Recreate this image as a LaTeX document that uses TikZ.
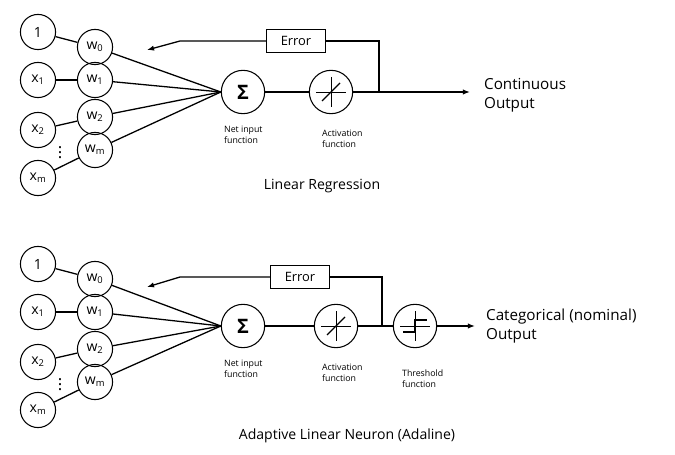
\documentclass[tikz,border=0pt]{standalone}
\usepackage{fontspec}
\setmainfont{Open Sans}
\usetikzlibrary{positioning, arrows.meta, calc}

\tikzset{
  unit/.style={circle, draw, line width=0.9pt, minimum size=30pt, inner sep=0pt, font=\fontsize{12}{12}\selectfont},
  fun/.style={circle, draw, line width=0.9pt, minimum size=37pt, inner sep=0pt},
  wire/.style={line width=1.1pt},
  note/.style={font=\fontsize{7.5}{9}\selectfont, align=left, anchor=north west},
  title/.style={font=\fontsize{12}{14}\selectfont},
  errbox/.style={draw, line width=0.9pt, minimum width=50pt, minimum height=19pt, font=\fontsize{11}{11}\selectfont},
}

\begin{document}
\begin{tikzpicture}[x=0.03cm, y=-0.03cm]
  \useasboundingbox (0,0) rectangle (675,455);

  % Linear regression
  \node[unit] (a1) at (38,32) {1};
  \node[unit] (ax1) at (38,80) {x\textsubscript{1}};
  \node[unit] (ax2) at (38,130) {x\textsubscript{2}};
  \node[unit] (axm) at (38,178) {x\textsubscript{m}};
  \node[unit] (aw0) at (95,47) {w\textsubscript{0}};
  \node[unit] (aw1) at (95,80) {w\textsubscript{1}};
  \node[unit] (aw2) at (95,117) {w\textsubscript{2}};
  \node[unit] (awm) at (95,150) {w\textsubscript{m}};
  \node[font=\Large] at (60,149) {$\vdots$};
  \node[fun] (asum) at (243,92) {\fontsize{17}{17}\selectfont\textbf{Σ}};
  \node[fun] (aact) at (331,92) {};
  \draw[line width=0.6pt] ($(aact)+(-15,0)$) -- ++(30,0) ($(aact)+(0,-15)$) -- ++(0,30);
  \draw[line width=1pt] ($(aact)+(-9,9)$) -- ++(18,-18);
  \node[errbox] (aerr) at (296,41) {Error};
  \coordinate (asplit) at (379,92);
  \coordinate (aout) at (470,92);
  \coordinate (abend) at (180,41);
  \coordinate (aback) at (147,50);
  \foreach \i/\w in {1/0, x1/1, x2/2, xm/m} \draw[wire] (a\i) -- (aw\w);
  \foreach \w in {0,1,2,m} \draw[wire] (aw\w) -- (asum.west);
  \draw[wire] (asum) -- (aact);
  \draw[wire, -{Latex[length=6pt]}] (aact) -- (aout);
  \draw[wire] (asplit) |- (aerr.east);
  \draw[wire, -{Latex[length=6pt]}] (aerr.west) -- (abend) -- (aback);
  \node[anchor=west, font=\fontsize{13}{16}\selectfont, align=left] at (480,95) {Continuous\\Output};
  \node[note] at (220,122) {Net input\\function};
  \node[note] at (318,126) {Activation\\function};
  \node[title] at (322,186) {Linear Regression};

  % Adaline
  \node[unit] (b1) at (38,264) {1};
  \node[unit] (bx1) at (38,312) {x\textsubscript{1}};
  \node[unit] (bx2) at (38,362) {x\textsubscript{2}};
  \node[unit] (bxm) at (38,410) {x\textsubscript{m}};
  \node[unit] (bw0) at (95,279) {w\textsubscript{0}};
  \node[unit] (bw1) at (95,312) {w\textsubscript{1}};
  \node[unit] (bw2) at (95,349) {w\textsubscript{2}};
  \node[unit] (bwm) at (95,382) {w\textsubscript{m}};
  \node[font=\Large] at (60,381) {$\vdots$};
  \node[fun] (bsum) at (243,326) {\fontsize{17}{17}\selectfont\textbf{Σ}};
  \node[fun] (bact) at (336,326) {};
  \draw[line width=0.6pt] ($(bact)+(-15,0)$) -- ++(30,0) ($(bact)+(0,-15)$) -- ++(0,30);
  \draw[line width=1pt] ($(bact)+(-9,9)$) -- ++(18,-18);
  \node[fun] (bthr) at (415,326) {};
  \draw[line width=0.6pt] ($(bthr)+(-15,0)$) -- ++(30,0) ($(bthr)+(0,-15)$) -- ++(0,30);
  \draw[line width=1pt] ($(bthr)+(-12,6)$) -- ++(12,0) -- ++(0,-12) -- ++(12,0);
  \node[errbox] (berr) at (300,277) {Error};
  \coordinate (bsplit) at (382,326);
  \coordinate (bout) at (475,326);
  \coordinate (bbend) at (180,277);
  \coordinate (bback) at (147,287);
  \foreach \i/\w in {1/0, x1/1, x2/2, xm/m} \draw[wire] (b\i) -- (bw\w);
  \foreach \w in {0,1,2,m} \draw[wire] (bw\w) -- (bsum.west);
  \draw[wire] (bsum) -- (bact);
  \draw[wire] (bact) -- (bthr);
  \draw[wire, -{Latex[length=6pt]}] (bthr) -- (bout);
  \draw[wire] (bsplit) |- (berr.east);
  \draw[wire, -{Latex[length=6pt]}] (berr.west) -- (bbend) -- (bback);
  \node[anchor=west, font=\fontsize{13}{16}\selectfont, align=left] at (482,326) {Categorical (nominal)\\Output};
  \node[note] at (220,356) {Net input\\function};
  \node[note] at (318,360) {Activation\\function};
  \node[note] at (398,366) {Threshold\\function};
  \node[title] at (347,436) {Adaptive Linear Neuron (Adaline)};
\end{tikzpicture}
\end{document}
